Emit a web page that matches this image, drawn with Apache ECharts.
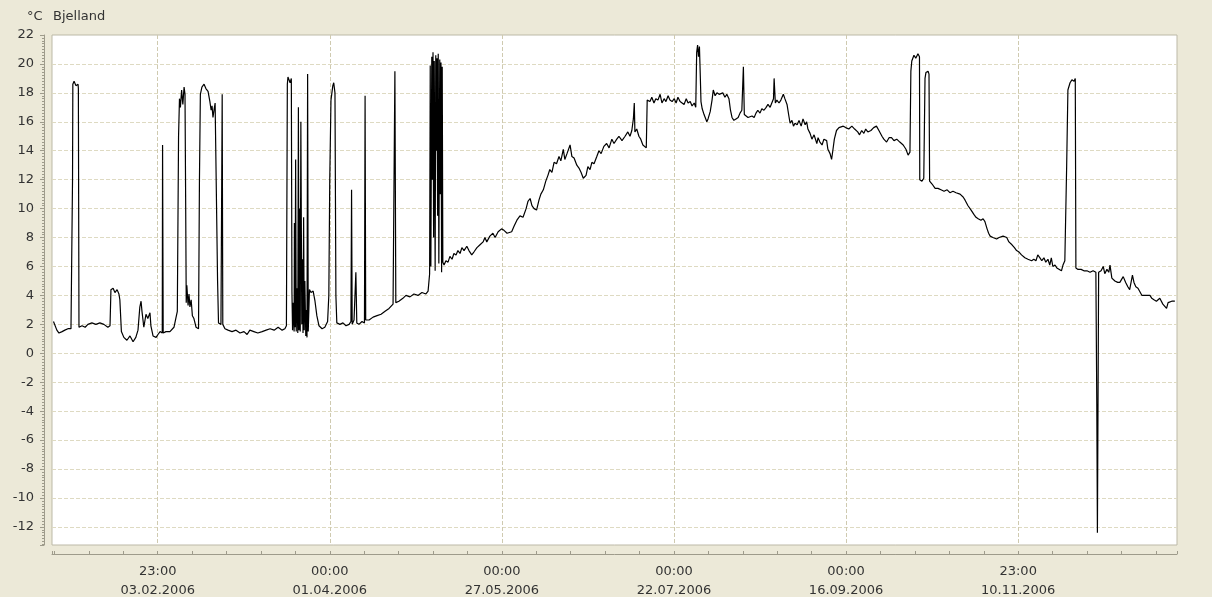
<!DOCTYPE html>
<html>
<head>
<meta charset="utf-8">
<title>Bjelland</title>
<script src="https://cdn.jsdelivr.net/npm/echarts@6/dist/echarts.min.js"></script>
<style>
  html, body { margin: 0; padding: 0; background: #ece9d8; }
  #main { width: 1212px; height: 597px; }
</style>
</head>
<body>
<div id="main"></div>
<script>
// temperature readings, Bjelland 2006
// dayOfYear: days since 01.01.2006 00:00 UTC
const dayOfYear = [
  0.0, 0.5, 1.1, 1.8, 2.8, 3.7, 4.7, 5.7, 6.0, 6.2,
  6.3, 6.7, 7.3, 8.0, 8.1, 8.3, 9.3, 10.3, 11.2, 12.5,
  13.8, 15.1, 16.4, 17.7, 18.4, 18.7, 19.4, 20.0, 20.7, 21.3,
  21.6, 22.1, 22.9, 23.9, 24.9, 25.9, 26.8, 27.5, 28.1, 28.5,
  28.8, 29.4, 30.1, 30.7, 31.4, 31.7, 32.4, 33.4, 34.0, 34.7,
  35.4, 35.5, 35.7, 36.6, 37.9, 39.2, 39.8, 40.3, 40.7, 41.0,
  41.3, 41.7, 42.1, 42.5, 42.8, 43.0, 43.2, 43.4, 43.8, 44.1,
  44.4, 44.8, 45.2, 45.7, 46.4, 47.2, 47.5, 47.8, 48.3, 49.0,
  49.6, 50.3, 50.9, 51.3, 51.6, 51.9, 52.3, 52.6, 53.0, 53.4,
  53.7, 54.5, 54.9, 55.1, 55.8, 56.8, 58.1, 59.4, 60.7, 62.0,
  63.0, 63.9, 65.2, 66.5, 67.9, 69.2, 70.5, 71.8, 73.1, 74.4,
  75.3, 75.8, 76.1, 76.3, 77.0, 77.4, 77.6, 77.8, 78.0, 78.3,
  78.4, 78.6, 78.8, 79.0, 79.2, 79.5, 79.7, 79.9, 80.1, 80.3,
  80.5, 80.8, 81.0, 81.2, 81.4, 81.6, 81.8, 82.1, 82.3, 82.5,
  82.7, 82.9, 83.3, 83.8, 84.5, 85.1, 85.7, 86.4, 87.4, 88.3,
  89.2, 89.6, 89.9, 90.3, 90.9, 91.2, 91.6, 91.9, 92.2, 93.2,
  94.2, 95.2, 96.2, 96.8, 97.0, 97.2, 97.8, 98.4, 98.7, 99.4,
  100.4, 101.2, 101.4, 101.6, 102.7, 104.0, 105.3, 106.6, 107.9, 109.2,
  110.5, 111.0, 111.1, 111.4, 112.4, 113.7, 114.7, 116.0, 117.3, 118.6,
  119.9, 121.2, 121.9, 122.4, 122.6, 122.8, 123.1, 123.3, 123.5, 123.7,
  123.9, 124.2, 124.4, 124.6, 124.8, 125.0, 125.2, 125.4, 125.7, 125.9,
  126.1, 126.3, 126.5, 126.7, 127.1, 127.7, 128.4, 129.0, 129.7, 130.3,
  131.0, 131.6, 132.3, 132.9, 133.6, 134.5, 135.2, 136.1, 136.8, 137.8,
  138.8, 139.8, 140.4, 141.0, 142.0, 143.0, 143.7, 144.7, 145.8, 146.6,
  147.6, 149.1, 149.9, 150.8, 151.8, 152.8, 153.8, 154.4, 155.1, 155.7,
  156.4, 157.2, 158.0, 158.6, 159.4, 160.2, 160.9, 161.5, 162.2, 162.9,
  163.7, 164.5, 165.1, 165.9, 166.4, 167.1, 168.1, 168.7, 169.4, 170.3,
  171.0, 171.7, 172.4, 173.3, 173.9, 174.6, 175.2, 175.9, 176.8, 177.5,
  178.2, 179.1, 180.0, 180.8, 181.7, 182.4, 183.3, 184.0, 185.0, 186.0,
  186.9, 187.6, 188.2, 188.7, 189.0, 189.2, 189.8, 190.5, 191.1, 191.8,
  192.4, 192.9, 193.2, 194.1, 194.7, 195.4, 196.0, 196.7, 197.4, 198.0,
  198.7, 199.3, 200.0, 200.6, 201.3, 202.0, 202.6, 203.2, 203.9, 204.5,
  205.2, 205.9, 206.5, 207.2, 207.8, 208.5, 209.0, 209.3, 209.6, 209.9,
  210.2, 210.5, 210.7, 211.1, 211.7, 212.6, 213.0, 213.7, 214.3, 214.7,
  215.3, 215.9, 216.6, 217.2, 217.8, 218.5, 219.1, 219.8, 220.3, 220.8,
  221.4, 222.1, 222.8, 223.4, 224.0, 224.5, 224.8, 225.4, 226.0, 226.6,
  227.3, 228.0, 228.6, 229.2, 229.9, 230.5, 231.2, 231.9, 232.5, 233.2,
  233.8, 234.3, 234.5, 234.9, 235.4, 236.1, 236.7, 237.5, 238.0, 238.7,
  239.3, 239.7, 240.3, 240.8, 241.3, 242.0, 242.6, 243.3, 243.9, 244.6,
  245.1, 245.5, 246.2, 246.8, 247.5, 248.4, 248.8, 249.4, 250.1, 250.7,
  251.6, 252.0, 252.7, 253.2, 253.6, 254.1, 254.8, 255.6, 256.2, 257.0,
  257.8, 258.8, 259.8, 260.7, 261.7, 262.3, 263.0, 263.7, 264.3, 265.0,
  266.0, 266.9, 267.8, 268.6, 269.6, 270.2, 271.1, 271.9, 272.7, 273.5,
  274.4, 275.4, 276.5, 277.4, 278.1, 278.7, 279.0, 279.3, 280.0, 280.6,
  281.3, 281.8, 281.9, 282.6, 283.2, 283.6, 283.9, 284.6, 284.9, 285.1,
  285.9, 286.9, 287.8, 288.8, 289.8, 290.8, 291.7, 292.7, 293.7, 295.0,
  296.0, 296.6, 297.6, 298.6, 299.5, 300.2, 300.9, 301.8, 302.5, 303.1,
  303.8, 304.3, 304.8, 305.7, 306.9, 307.7, 308.3, 309.0, 309.6, 310.2,
  310.9, 311.9, 312.7, 313.4, 314.2, 315.0, 315.5, 316.1, 317.1, 318.3,
  319.0, 319.7, 320.3, 321.0, 321.6, 322.3, 322.9, 323.6, 324.2, 324.7,
  325.2, 325.9, 326.5, 327.1, 328.0, 328.5, 329.1, 329.7, 330.1, 330.8,
  331.4, 332.1, 332.5, 332.7, 333.4, 334.4, 335.3, 336.3, 337.3, 338.3,
  339.2, 339.5, 339.7, 340.0, 340.1, 340.9, 341.6, 342.1, 342.8, 343.4,
  343.8, 344.4, 345.4, 346.3, 347.0, 348.1, 348.9, 349.6, 350.2, 351.1,
  351.6, 352.2, 352.9, 353.5, 354.2, 354.6, 355.5, 356.1, 356.8, 357.4,
  358.1, 358.9, 359.4, 360.0, 360.6, 361.0, 361.6, 362.2, 362.7, 363.3,
  363.9, 364.5, 364.9
];

// °C
const tempC = [
  2.2, 2.3, 1.6, 1.4, 1.5, 1.6, 1.7, 1.7, 1.8, 12.0,
  18.6, 18.8, 18.5, 18.6, 18.3, 1.8, 1.9, 1.8, 2.0, 2.1,
  2.0, 2.1, 2.0, 1.8, 1.9, 4.4, 4.5, 4.2, 4.4, 4.1,
  3.7, 1.5, 1.1, 0.9, 1.2, 0.8, 1.1, 1.6, 3.2, 3.6,
  2.9, 1.8, 2.7, 2.4, 2.8, 1.9, 1.2, 1.1, 1.3, 1.5,
  1.4, 14.4, 1.4, 1.5, 1.5, 1.8, 2.4, 2.9, 15.0, 17.6,
  17.0, 18.2, 17.2, 18.4, 17.9, 11.0, 3.5, 4.7, 3.3, 4.1,
  3.2, 3.7, 2.6, 2.4, 1.8, 1.7, 12.0, 17.9, 18.4, 18.6,
  18.3, 18.1, 17.4, 16.8, 17.1, 16.3, 16.9, 17.3, 17.4, 5.0,
  2.1, 2.0, 17.9, 2.0, 1.7, 1.6, 1.5, 1.6, 1.4, 1.5,
  1.3, 1.6, 1.5, 1.4, 1.5, 1.6, 1.7, 1.6, 1.8, 1.6,
  1.7, 1.9, 18.6, 19.1, 18.7, 19.0, 4.2, 1.6, 3.5, 1.5,
  9.0, 1.8, 13.4, 1.5, 4.5, 1.4, 17.0, 1.6, 10.0, 1.5,
  16.0, 2.0, 6.5, 1.4, 9.4, 1.6, 5.0, 1.2, 3.0, 1.1,
  19.3, 1.5, 4.4, 4.2, 4.3, 3.6, 2.6, 1.9, 1.7, 1.8,
  2.2, 4.0, 12.0, 17.5, 18.5, 18.7, 18.0, 4.0, 2.1, 2.0,
  2.1, 1.9, 2.0, 2.2, 11.3, 2.0, 2.3, 5.6, 2.1, 2.0,
  2.2, 2.1, 17.8, 2.3, 2.3, 2.5, 2.6, 2.7, 2.9, 3.1,
  3.4, 3.4, 19.5, 3.5, 3.6, 3.8, 4.0, 3.9, 4.1, 4.0,
  4.2, 4.1, 4.3, 5.5, 19.9, 6.0, 20.5, 12.0, 20.8, 8.0,
  20.2, 5.7, 20.6, 14.0, 20.4, 9.5, 20.7, 6.2, 20.3, 11.0,
  20.1, 5.6, 19.8, 6.3, 6.1, 6.4, 6.3, 6.7, 6.5, 6.9,
  6.8, 7.1, 6.9, 7.3, 7.1, 7.4, 7.1, 6.8, 7.0, 7.3,
  7.5, 7.7, 8.0, 7.7, 8.1, 8.3, 8.0, 8.4, 8.6, 8.5,
  8.3, 8.4, 8.8, 9.2, 9.5, 9.4, 10.0, 10.5, 10.7, 10.2,
  10.0, 9.9, 10.6, 11.0, 11.3, 11.9, 12.3, 12.7, 12.5, 13.2,
  13.1, 13.6, 13.3, 14.1, 13.4, 13.8, 14.4, 13.6, 13.5, 13.0,
  12.8, 12.5, 12.1, 12.3, 12.9, 12.7, 13.2, 13.1, 13.6, 14.0,
  13.8, 14.3, 14.5, 14.2, 14.8, 14.5, 14.8, 15.0, 14.7, 15.0,
  15.3, 15.0, 15.4, 16.2, 17.3, 15.3, 15.5, 15.0, 14.8, 14.4,
  14.4, 14.2, 17.5, 17.4, 17.7, 17.3, 17.6, 17.5, 17.9, 17.3,
  17.6, 17.4, 17.8, 17.5, 17.4, 17.6, 17.3, 17.7, 17.4, 17.5,
  17.2, 17.6, 17.3, 17.4, 17.1, 17.3, 17.0, 20.8, 21.3, 20.5,
  21.2, 19.0, 17.4, 16.9, 16.5, 16.0, 16.2, 16.7, 17.5, 18.2,
  17.8, 18.0, 17.9, 17.8, 18.0, 17.7, 17.9, 17.6, 16.8, 16.3,
  16.1, 16.2, 16.3, 16.6, 16.8, 19.8, 16.5, 16.4, 16.3, 16.2,
  16.4, 16.3, 16.6, 16.8, 16.6, 16.9, 16.8, 17.0, 17.2, 17.0,
  17.1, 17.6, 19.0, 17.3, 17.5, 17.3, 17.5, 17.9, 17.6, 17.2,
  16.4, 15.9, 16.1, 15.7, 15.9, 15.8, 16.1, 15.7, 16.2, 15.8,
  16.0, 15.5, 15.2, 14.8, 15.1, 14.5, 14.9, 14.6, 14.4, 14.8,
  14.7, 14.1, 13.8, 13.4, 14.0, 14.8, 15.4, 15.6, 15.5, 15.7,
  15.6, 15.5, 15.7, 15.5, 15.3, 15.1, 15.4, 15.2, 15.5, 15.3,
  15.4, 15.6, 15.7, 15.4, 15.0, 14.8, 14.6, 14.9, 14.9, 14.7,
  14.8, 14.6, 14.4, 14.1, 13.7, 13.9, 19.5, 20.2, 20.6, 20.4,
  20.7, 20.5, 12.0, 11.9, 12.1, 19.0, 19.4, 19.5, 19.3, 11.9,
  11.7, 11.4, 11.4, 11.3, 11.2, 11.3, 11.1, 11.2, 11.1, 11.0,
  10.8, 10.6, 10.2, 9.9, 9.6, 9.4, 9.3, 9.2, 9.3, 9.1,
  8.6, 8.3, 8.1, 8.0, 7.9, 8.0, 7.9, 8.1, 8.2, 8.0,
  7.7, 7.5, 7.3, 7.1, 7.0, 6.8, 6.7, 6.6, 6.5, 6.4,
  6.5, 6.4, 6.8, 6.6, 6.4, 6.6, 6.3, 6.5, 6.1, 6.6,
  6.0, 6.1, 5.9, 5.8, 5.7, 6.1, 6.4, 13.0, 18.2, 18.7,
  18.9, 18.8, 19.0, 5.9, 5.8, 5.8, 5.7, 5.7, 5.6, 5.7,
  5.6, -3.5, -12.4, -12.4, 5.6, 5.7, 6.0, 5.5, 5.8, 5.6,
  6.1, 5.2, 5.0, 4.9, 4.9, 5.3, 4.9, 4.6, 4.4, 5.4,
  4.9, 4.6, 4.5, 4.4, 4.0, 3.9, 4.0, 4.1, 4.0, 3.8,
  3.7, 3.6, 3.7, 3.8, 3.7, 3.4, 3.3, 3.1, 3.5, 3.4,
  3.6, 3.5, 3.6
];

// x tick labels, one every 56 days (local time)
const xTickLabels = [
  '23:00\n03.02.2006',
  '00:00\n01.04.2006',
  '00:00\n27.05.2006',
  '00:00\n22.07.2006',
  '00:00\n16.09.2006',
  '23:00\n10.11.2006'
];

// axis runs in days since 09.12.2005 22:00 UTC so the 56 day ticks are multiples of 56
const TICK_DAYS = 56;
const AXIS_SHIFT = 22 + 2 / 24;
const X_MIN_DOY = -0.48;
const X_MAX_DOY = 365.6;

const FONT = 'DejaVu Sans';
const TEXT = '#333333';
const AXIS_COLOR = '#9e9b8b';
const GRID_LINE = '#dedac2';
const GRID_LINE_V = '#cfcab0'; // vertical dashes come out lighter, so a bit darker

const seriesData = dayOfYear.map((d, i) => [d + AXIS_SHIFT, tempC[i]]);

const chart = echarts.init(document.getElementById('main'), null, { renderer: 'canvas' });

const option = {
  backgroundColor: '#ece9d8',
  animation: false,
  title: [
    {
      text: '°C', left: 27, top: 10, padding: 0,
      textStyle: { fontFamily: FONT, fontSize: 13, fontWeight: 'normal', color: TEXT }
    },
    {
      text: 'Bjelland', left: 53, top: 10, padding: 0,
      textStyle: { fontFamily: FONT, fontSize: 13, fontWeight: 'normal', color: TEXT }
    }
  ],
  grid: {
    left: 52, right: 35, top: 35, bottom: 52,
    show: true,
    z: 0,
    backgroundColor: '#ffffff',
    borderColor: '#bcb9a7',
    borderWidth: 1,
    outerBoundsMode: 'none'
  },
  xAxis: {
    type: 'value',
    z: 1,
    min: X_MIN_DOY + AXIS_SHIFT,
    max: X_MAX_DOY + AXIS_SHIFT,
    minInterval: TICK_DAYS,
    maxInterval: TICK_DAYS,
    splitNumber: 6,
    offset: 9,
    axisLine: { show: true, onZero: false, lineStyle: { color: AXIS_COLOR, width: 1 } },
    axisTick: { show: true, inside: true, length: 3, lineStyle: { color: AXIS_COLOR } },
    minorTick: { show: true, splitNumber: 5, length: 3, lineStyle: { color: AXIS_COLOR } },
    axisLabel: {
      margin: 8,
      fontFamily: FONT,
      fontSize: 13,
      lineHeight: 19,
      color: TEXT,
      showMinLabel: false,
      showMaxLabel: false,
      formatter: function (v) {
        const k = Math.round(v / TICK_DAYS);
        if (Math.abs(v - k * TICK_DAYS) > 1e-6) return '';
        return xTickLabels[k - 1] || '';
      }
    },
    splitLine: {
      show: true,
      showMinLine: false,
      showMaxLine: false,
      lineStyle: { color: GRID_LINE_V, type: 'dashed', width: 1 }
    }
  },
  yAxis: {
    type: 'value',
    z: 1,
    min: -13.25,
    max: 22,
    minInterval: 2,
    maxInterval: 2,
    splitNumber: 18,
    offset: 8,
    axisLine: { show: true, onZero: false, lineStyle: { color: AXIS_COLOR, width: 1 } },
    axisTick: { show: true, length: 4, lineStyle: { color: AXIS_COLOR } },
    minorTick: { show: true, splitNumber: 10, length: 2, lineStyle: { color: AXIS_COLOR } },
    axisLabel: {
      margin: 10,
      fontFamily: FONT,
      fontSize: 13,
      color: TEXT,
      showMinLabel: false,
      formatter: function (v) {
        return Math.abs(v - Math.round(v)) < 1e-6 ? String(Math.round(v)) : '';
      }
    },
    splitLine: {
      show: true,
      showMinLine: false,
      showMaxLine: false,
      lineStyle: { color: GRID_LINE, type: 'dashed', width: 1 }
    }
  },
  series: [
    {
      name: 'Bjelland',
      type: 'line',
      z: 3,
      data: seriesData,
      showSymbol: false,
      symbol: 'none',
      clip: true,
      lineStyle: { color: '#000000', width: 1.2 },
      emphasis: { disabled: true }
    }
  ]
};

chart.setOption(option);
</script>
</body>
</html>
